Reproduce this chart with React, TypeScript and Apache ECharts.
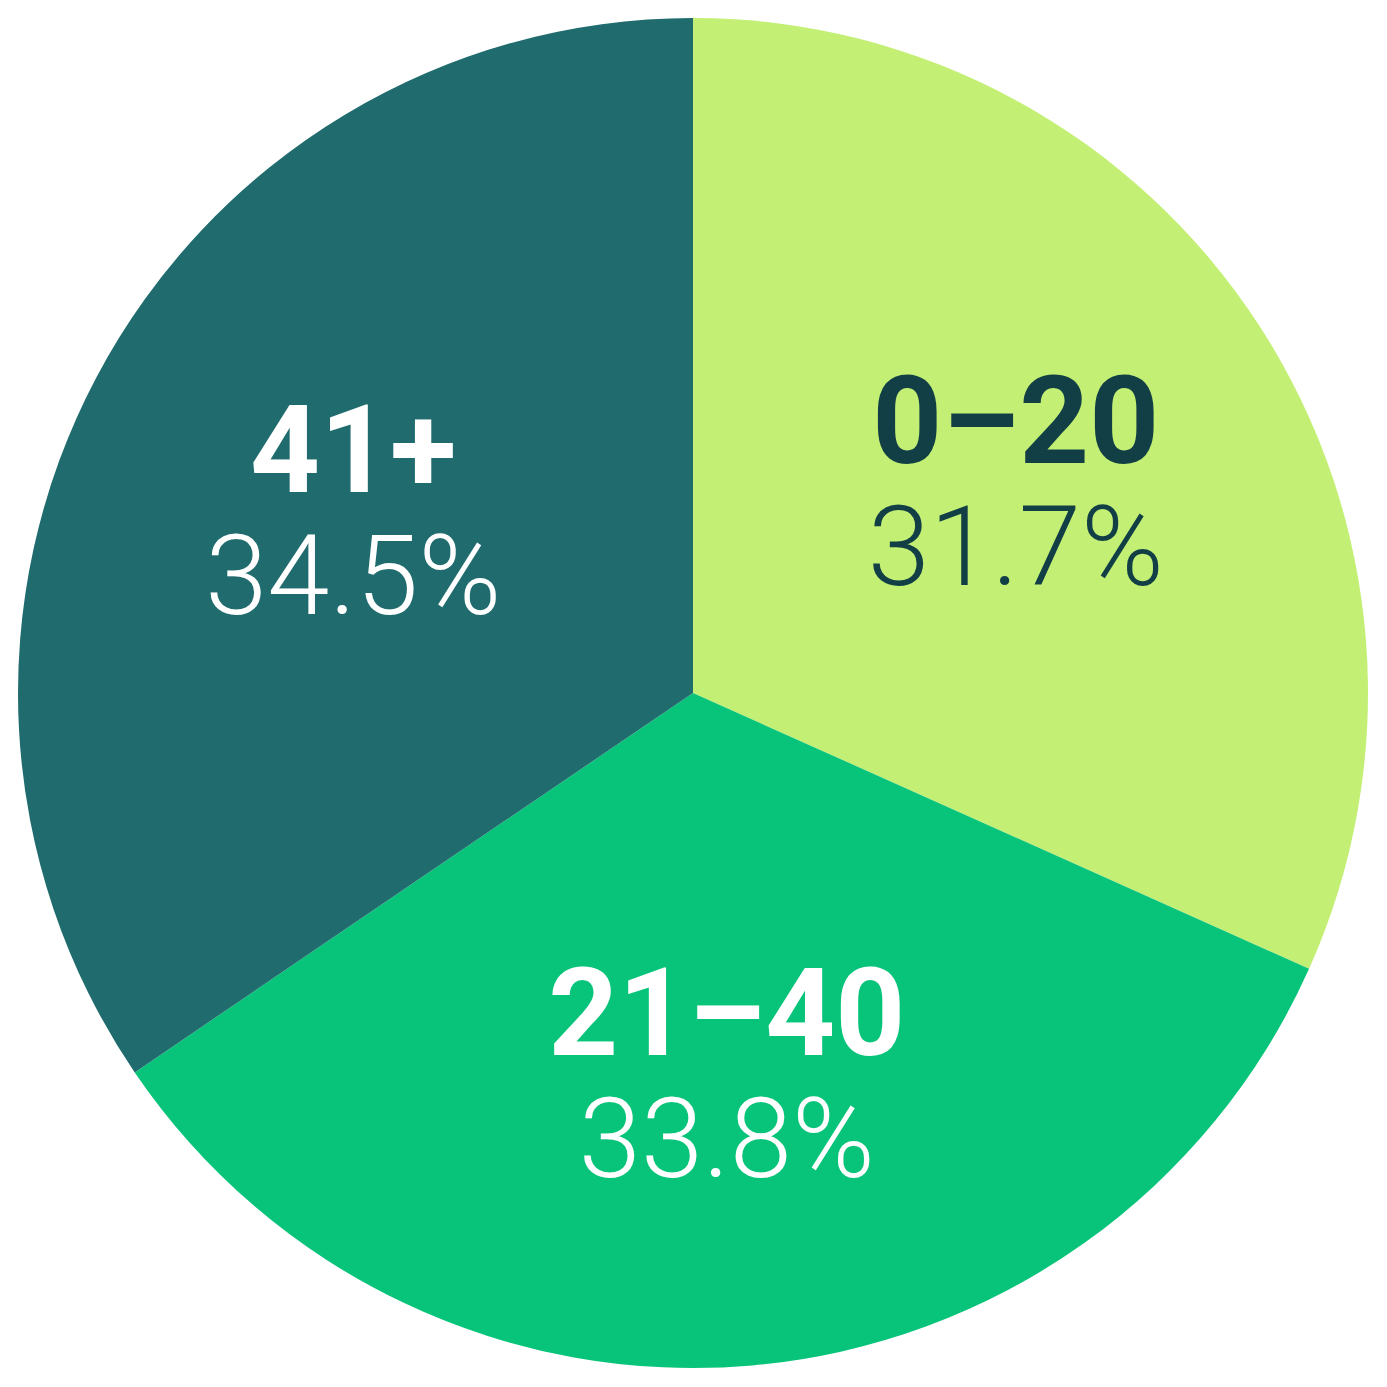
import React, { useEffect, useRef } from 'react';
import * as echarts from 'echarts';

// age bands and their shares (%)
const categories = ['0–20', '21–40', '41+'];
const shares = [31.7, 33.8, 34.5];
const sliceColors = ['#c3f074', '#08c47a', '#1f6b6e'];
const labelColors = ['#123f45', '#ffffff', '#ffffff'];

const App: React.FC = () => {
  const chartRef = useRef<HTMLDivElement>(null);

  useEffect(() => {
    if (!chartRef.current) return;
    const chart = echarts.init(chartRef.current, null, { renderer: 'svg' });

    const pieData = categories.map((name, i) => ({
      name,
      value: shares[i],
      itemStyle: { color: sliceColors[i] }
    }));

    const labelData = categories.map((name, i) => ({
      name,
      value: shares[i],
      label: {
        rich: {
          n: { color: labelColors[i] },
          p: { color: labelColors[i] }
        }
      }
    }));

    const option: echarts.EChartsOption = {
      animation: false,
      backgroundColor: '#ffffff',
      series: [
        {
          type: 'pie',
          center: [693, 693],
          radius: [0, 675],
          startAngle: 90,
          clockwise: true,
          silent: true,
          label: { show: false },
          labelLine: { show: false },
          itemStyle: { borderWidth: 0 },
          data: pieData
        },
        {
          // transparent ring used only to place labels further out
          type: 'pie',
          center: [693, 693],
          radius: [88, 675],
          startAngle: 90,
          clockwise: true,
          silent: true,
          itemStyle: { color: 'rgba(0,0,0,0)', borderWidth: 0 },
          labelLine: { show: false },
          label: {
            show: true,
            position: 'inside',
            formatter: '{n|{b}}\n{p|{c}%}',
            rich: {
              n: {
                fontFamily: 'Roboto',
                fontWeight: 'bold',
                fontSize: 122,
                lineHeight: 125,
                align: 'center'
              },
              p: {
                fontFamily: 'Roboto',
                fontWeight: 300,
                fontSize: 112,
                lineHeight: 125,
                align: 'center'
              }
            }
          },
          data: labelData
        }
      ]
    };

    chart.setOption(option);
    return () => {
      chart.dispose();
    };
  }, []);

  return (
    <div
      ref={chartRef}
      style={{ position: 'absolute', left: 0, top: 0, width: '1387px', height: '1387px' }}
    />
  );
};

export default App;
